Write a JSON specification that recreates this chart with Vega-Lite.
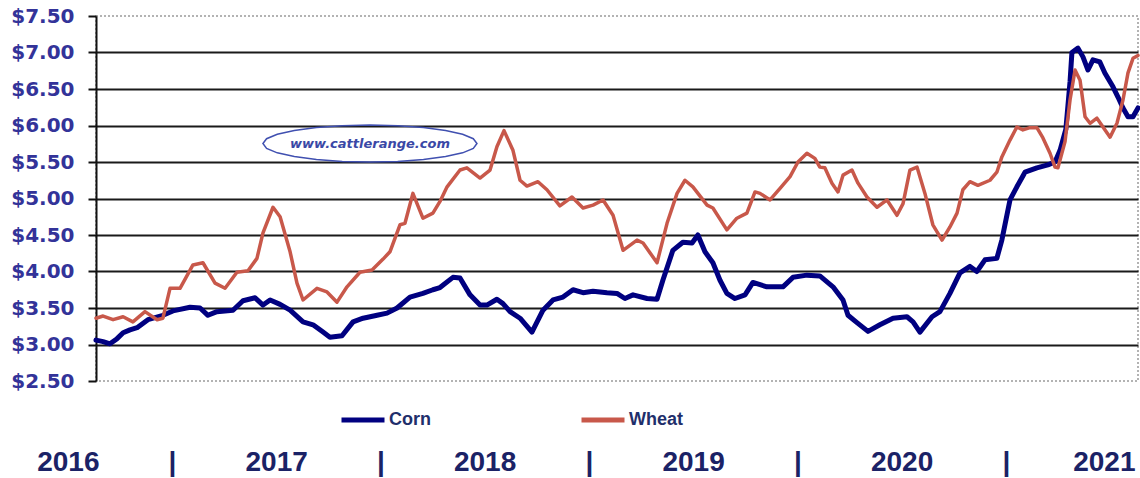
{
  "$schema": "https://vega.github.io/schema/vega-lite/v6.json",
  "width": 1042,
  "height": 365,
  "autosize": {"type": "none"},
  "padding": {"left": 96, "top": 16, "right": 2, "bottom": 97},
  "background": "white",
  "config": {
    "view": {"stroke": "#9a9a9a", "strokeWidth": 1.5, "strokeDash": [2, 2]}
  },
  "datasets": {
    "corn": [
      {"t":2016.636,"price":3.06},{"t":2016.670,"price":3.04},{"t":2016.703,"price":3.01},{"t":2016.737,"price":3.08},{"t":2016.766,"price":3.16},{"t":2016.799,"price":3.20},{"t":2016.833,"price":3.23},{"t":2016.885,"price":3.34},{"t":2016.957,"price":3.40},{"t":2017.005,"price":3.46},{"t":2017.087,"price":3.51},{"t":2017.135,"price":3.50},{"t":2017.173,"price":3.40},{"t":2017.216,"price":3.45},{"t":2017.293,"price":3.47},{"t":2017.341,"price":3.60},{"t":2017.399,"price":3.64},{"t":2017.437,"price":3.54},{"t":2017.471,"price":3.61},{"t":2017.519,"price":3.55},{"t":2017.567,"price":3.47},{"t":2017.629,"price":3.31},{"t":2017.677,"price":3.27},{"t":2017.725,"price":3.17},{"t":2017.758,"price":3.10},{"t":2017.816,"price":3.12},{"t":2017.869,"price":3.31},{"t":2017.917,"price":3.36},{"t":2017.984,"price":3.40},{"t":2018.032,"price":3.43},{"t":2018.080,"price":3.50},{"t":2018.142,"price":3.65},{"t":2018.204,"price":3.70},{"t":2018.252,"price":3.75},{"t":2018.286,"price":3.78},{"t":2018.348,"price":3.92},{"t":2018.382,"price":3.91},{"t":2018.430,"price":3.68},{"t":2018.478,"price":3.54},{"t":2018.511,"price":3.54},{"t":2018.559,"price":3.62},{"t":2018.588,"price":3.56},{"t":2018.622,"price":3.45},{"t":2018.670,"price":3.36},{"t":2018.727,"price":3.17},{"t":2018.780,"price":3.47},{"t":2018.828,"price":3.61},{"t":2018.876,"price":3.65},{"t":2018.924,"price":3.75},{"t":2018.972,"price":3.71},{"t":2019.020,"price":3.73},{"t":2019.087,"price":3.71},{"t":2019.135,"price":3.70},{"t":2019.173,"price":3.63},{"t":2019.212,"price":3.68},{"t":2019.279,"price":3.63},{"t":2019.327,"price":3.62},{"t":2019.355,"price":3.88},{"t":2019.403,"price":4.29},{"t":2019.451,"price":4.40},{"t":2019.495,"price":4.39},{"t":2019.523,"price":4.50},{"t":2019.557,"price":4.27},{"t":2019.595,"price":4.12},{"t":2019.629,"price":3.88},{"t":2019.662,"price":3.70},{"t":2019.701,"price":3.63},{"t":2019.749,"price":3.68},{"t":2019.787,"price":3.85},{"t":2019.854,"price":3.79},{"t":2019.931,"price":3.79},{"t":2019.979,"price":3.92},{"t":2020.046,"price":3.95},{"t":2020.108,"price":3.94},{"t":2020.171,"price":3.79},{"t":2020.219,"price":3.61},{"t":2020.243,"price":3.40},{"t":2020.286,"price":3.30},{"t":2020.339,"price":3.18},{"t":2020.396,"price":3.27},{"t":2020.459,"price":3.36},{"t":2020.526,"price":3.38},{"t":2020.555,"price":3.31},{"t":2020.588,"price":3.17},{"t":2020.646,"price":3.38},{"t":2020.684,"price":3.45},{"t":2020.732,"price":3.70},{"t":2020.780,"price":3.98},{"t":2020.828,"price":4.07},{"t":2020.861,"price":4.00},{"t":2020.900,"price":4.16},{"t":2020.957,"price":4.18},{"t":2020.981,"price":4.43},{"t":2021.020,"price":4.98},{"t":2021.053,"price":5.16},{"t":2021.092,"price":5.36},{"t":2021.149,"price":5.42},{"t":2021.202,"price":5.46},{"t":2021.236,"price":5.50},{"t":2021.260,"price":5.66},{"t":2021.288,"price":5.95},{"t":2021.308,"price":6.60},{"t":2021.317,"price":7.00},{"t":2021.346,"price":7.06},{"t":2021.370,"price":6.94},{"t":2021.394,"price":6.76},{"t":2021.418,"price":6.90},{"t":2021.451,"price":6.87},{"t":2021.475,"price":6.72},{"t":2021.514,"price":6.53},{"t":2021.538,"price":6.39},{"t":2021.562,"price":6.24},{"t":2021.586,"price":6.12},{"t":2021.610,"price":6.12},{"t":2021.634,"price":6.24}
    ],
    "wheat": [
      {"t":2016.636,"price":3.36},{"t":2016.670,"price":3.39},{"t":2016.718,"price":3.34},{"t":2016.766,"price":3.38},{"t":2016.813,"price":3.31},{"t":2016.871,"price":3.45},{"t":2016.929,"price":3.34},{"t":2016.957,"price":3.36},{"t":2016.991,"price":3.77},{"t":2017.039,"price":3.77},{"t":2017.101,"price":4.09},{"t":2017.149,"price":4.12},{"t":2017.207,"price":3.84},{"t":2017.255,"price":3.77},{"t":2017.312,"price":3.99},{"t":2017.365,"price":4.01},{"t":2017.408,"price":4.18},{"t":2017.437,"price":4.53},{"t":2017.485,"price":4.88},{"t":2017.519,"price":4.75},{"t":2017.567,"price":4.27},{"t":2017.600,"price":3.84},{"t":2017.629,"price":3.61},{"t":2017.696,"price":3.77},{"t":2017.744,"price":3.72},{"t":2017.792,"price":3.58},{"t":2017.840,"price":3.79},{"t":2017.902,"price":3.99},{"t":2017.960,"price":4.02},{"t":2018.013,"price":4.17},{"t":2018.046,"price":4.27},{"t":2018.094,"price":4.64},{"t":2018.118,"price":4.66},{"t":2018.156,"price":5.07},{"t":2018.204,"price":4.73},{"t":2018.252,"price":4.80},{"t":2018.286,"price":4.96},{"t":2018.320,"price":5.16},{"t":2018.382,"price":5.39},{"t":2018.415,"price":5.42},{"t":2018.478,"price":5.28},{"t":2018.526,"price":5.39},{"t":2018.559,"price":5.71},{"t":2018.593,"price":5.93},{"t":2018.636,"price":5.66},{"t":2018.670,"price":5.25},{"t":2018.703,"price":5.17},{"t":2018.756,"price":5.23},{"t":2018.799,"price":5.12},{"t":2018.861,"price":4.90},{"t":2018.919,"price":5.02},{"t":2018.972,"price":4.87},{"t":2019.020,"price":4.91},{"t":2019.068,"price":4.98},{"t":2019.116,"price":4.77},{"t":2019.164,"price":4.29},{"t":2019.231,"price":4.43},{"t":2019.260,"price":4.39},{"t":2019.327,"price":4.12},{"t":2019.375,"price":4.66},{"t":2019.423,"price":5.07},{"t":2019.461,"price":5.25},{"t":2019.499,"price":5.16},{"t":2019.567,"price":4.91},{"t":2019.595,"price":4.87},{"t":2019.662,"price":4.57},{"t":2019.710,"price":4.73},{"t":2019.758,"price":4.80},{"t":2019.797,"price":5.09},{"t":2019.821,"price":5.07},{"t":2019.869,"price":4.98},{"t":2019.917,"price":5.14},{"t":2019.965,"price":5.30},{"t":2020.003,"price":5.50},{"t":2020.046,"price":5.62},{"t":2020.084,"price":5.55},{"t":2020.108,"price":5.43},{"t":2020.132,"price":5.42},{"t":2020.166,"price":5.21},{"t":2020.195,"price":5.09},{"t":2020.219,"price":5.32},{"t":2020.262,"price":5.39},{"t":2020.291,"price":5.21},{"t":2020.334,"price":5.02},{"t":2020.382,"price":4.88},{"t":2020.430,"price":4.98},{"t":2020.478,"price":4.77},{"t":2020.507,"price":4.93},{"t":2020.540,"price":5.39},{"t":2020.574,"price":5.43},{"t":2020.612,"price":5.07},{"t":2020.650,"price":4.64},{"t":2020.694,"price":4.43},{"t":2020.732,"price":4.61},{"t":2020.766,"price":4.80},{"t":2020.794,"price":5.12},{"t":2020.828,"price":5.23},{"t":2020.866,"price":5.18},{"t":2020.924,"price":5.25},{"t":2020.957,"price":5.36},{"t":2020.981,"price":5.57},{"t":2021.020,"price":5.80},{"t":2021.053,"price":5.98},{"t":2021.082,"price":5.94},{"t":2021.116,"price":5.97},{"t":2021.149,"price":5.97},{"t":2021.178,"price":5.83},{"t":2021.212,"price":5.62},{"t":2021.236,"price":5.43},{"t":2021.250,"price":5.42},{"t":2021.284,"price":5.78},{"t":2021.308,"price":6.35},{"t":2021.332,"price":6.76},{"t":2021.356,"price":6.62},{"t":2021.380,"price":6.12},{"t":2021.404,"price":6.03},{"t":2021.437,"price":6.10},{"t":2021.466,"price":5.98},{"t":2021.500,"price":5.84},{"t":2021.533,"price":6.03},{"t":2021.562,"price":6.35},{"t":2021.586,"price":6.72},{"t":2021.610,"price":6.92},{"t":2021.634,"price":6.96}
    ],
    "mark": [
      {"t": 2017.95, "price": 5.753, "label": "www.cattlerange.com"}
    ]
  },
  "encoding": {
    "x": {
      "field": "t",
      "type": "quantitative",
      "scale": {"domain": [2016.636, 2021.634], "nice": false, "zero": false},
      "axis": {
        "title": null,
        "values": [2016.64, 2017, 2017.5, 2018, 2018.5, 2019, 2019.5, 2020, 2020.5, 2021, 2021.47],
        "labelExpr": "datum.value < 2017 ? '2016' : (datum.value % 1 == 0 ? '|' : toString(floor(datum.value)))",
        "labelOffset": {"condition": {"test": "datum.value < 2017", "value": -29}, "value": 0},
        "domain": false,
        "ticks": false,
        "grid": false,
        "labelPadding": 67,
        "labelFont": "Liberation Sans",
        "labelFontWeight": "bold",
        "labelFontSize": 28,
        "labelColor": "#1B2266",
        "labelOverlap": false,
        "labelFlush": false,
        "labelBound": false
      }
    },
    "y": {
      "field": "price",
      "type": "quantitative",
      "scale": {"domain": [2.5, 7.5], "nice": false, "zero": false},
      "axis": {
        "title": null,
        "values": [2.5, 3, 3.5, 4, 4.5, 5, 5.5, 6, 6.5, 7, 7.5],
        "format": "$.2f",
        "labelFont": "DejaVu Sans",
        "labelFontWeight": "bold",
        "labelFontSize": 20,
        "labelColor": "#333399",
        "labelPadding": 14,
        "tickSize": 8,
        "tickColor": "#111111",
        "tickWidth": 2,
        "domainColor": "#111111",
        "domainWidth": 2,
        "grid": true,
        "gridColor": {"condition": {"test": "datum.value == 2.5 || datum.value == 7.5", "value": "transparent"}, "value": "#1a1a1a"},
        "gridWidth": 2,
        "gridOpacity": 1
      }
    }
  },
  "layer": [
    {
      "data": {"name": "mark"},
      "mark": {
        "type": "point",
        "shape": "M1,0L0.966,0.045L0.866,0.087L0.707,0.122L0.5,0.15L0.259,0.167L0,0.173L-0.259,0.167L-0.5,0.15L-0.707,0.122L-0.866,0.087L-0.966,0.045L-1,0L-0.966,-0.045L-0.866,-0.087L-0.707,-0.122L-0.5,-0.15L-0.259,-0.167L0,-0.173L0.259,-0.167L0.5,-0.15L0.707,-0.122L0.866,-0.087L0.966,-0.045Z",
        "size": 45796,
        "filled": false,
        "stroke": "#4050B0",
        "strokeWidth": 1.5,
        "opacity": 1
      },
      "encoding": {}
    },
    {
      "data": {"name": "mark"},
      "mark": {
        "type": "text",
        "font": "DejaVu Sans",
        "fontStyle": "italic",
        "fontWeight": "bold",
        "fontSize": 13,
        "color": "#3A48A6",
        "align": "center",
        "baseline": "middle"
      },
      "encoding": {"text": {"field": "label"}}
    },
    {
      "data": {"name": "corn"},
      "transform": [{"calculate": "'Corn'", "as": "crop"}],
      "mark": {"type": "line", "strokeWidth": 5, "strokeJoin": "round", "strokeCap": "round"},
      "encoding": {
        "color": {
          "field": "crop",
          "type": "nominal",
          "scale": {"domain": ["Corn", "Wheat"], "range": ["#000080", "#C8584A"]},
          "legend": {
            "orient": "none",
            "legendX": 243,
            "legendY": 380,
            "direction": "horizontal",
            "title": null,
            "symbolType": "stroke",
            "symbolSize": 1849,
            "symbolStrokeWidth": 5,
            "labelFont": "Liberation Sans",
            "labelFontWeight": "bold",
            "labelFontSize": 18,
            "labelColor": "#1F2F6B",
            "labelOffset": 2,
            "columnPadding": 140,
            "padding": 0
          }
        }
      }
    },
    {
      "data": {"name": "wheat"},
      "transform": [{"calculate": "'Wheat'", "as": "crop"}],
      "mark": {"type": "line", "strokeWidth": 3.5, "strokeJoin": "round", "strokeCap": "round"},
      "encoding": {
        "color": {"field": "crop", "type": "nominal"}
      }
    }
  ]
}
